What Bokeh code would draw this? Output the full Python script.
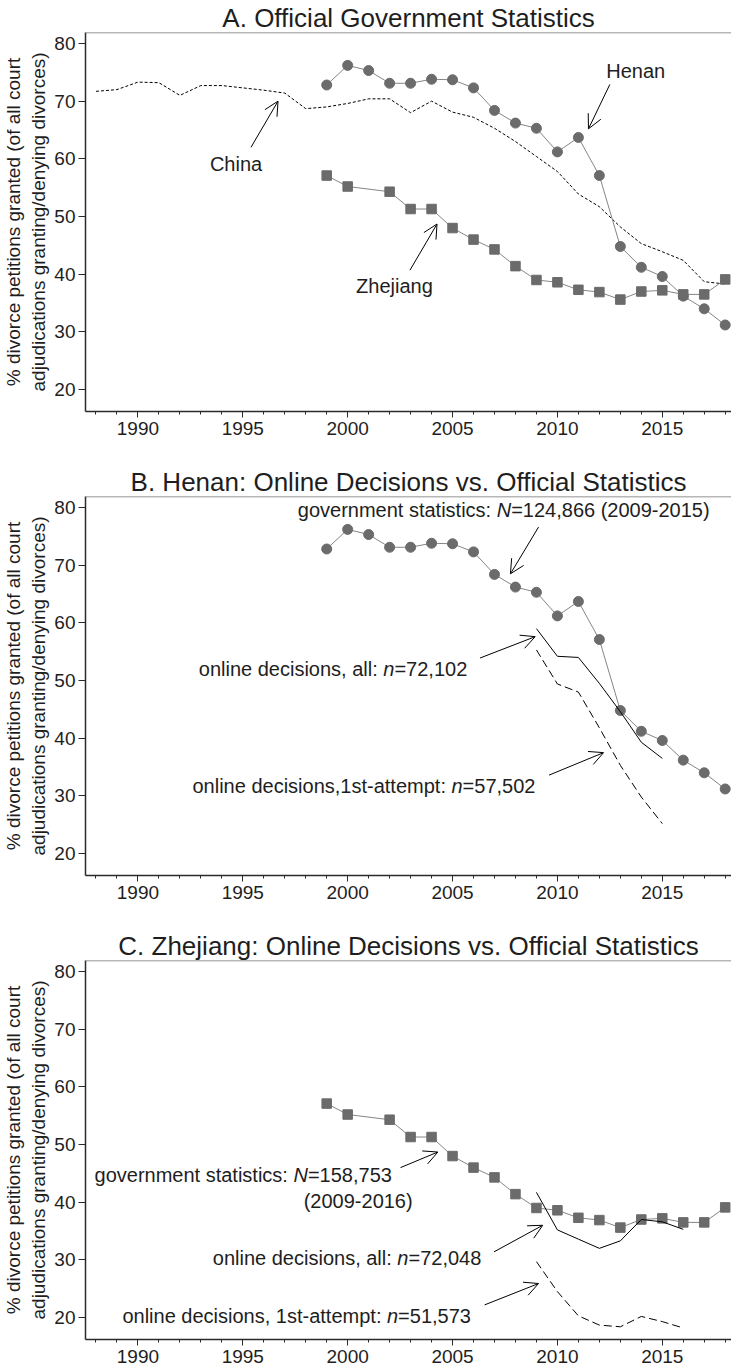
from bokeh.plotting import figure
from bokeh.layouts import column
from bokeh.models import FixedTicker, Arrow, OpenHead, Span, Range1d
from bokeh.core.properties import value
from bokeh.embed import file_html
from bokeh.resources import INLINE

# ---------------- data ----------------
china_years = list(range(1988, 2019))
china_pct = [71.7, 72.0, 73.3, 73.2, 71.0, 72.7, 72.7, 72.3, 71.9, 71.4,
             68.7, 69.0, 69.6, 70.4, 70.4, 68.0, 70.0, 68.1, 67.2, 65.3,
             63.0, 60.4, 57.8, 53.9, 51.7, 48.2, 45.3, 43.9, 42.4, 38.7, 38.3]

henan_years = list(range(1999, 2019))
henan_pct = [72.8, 76.2, 75.3, 73.1, 73.1, 73.8, 73.7, 72.3, 68.4, 66.2,
             65.3, 61.2, 63.7, 57.1, 44.8, 41.2, 39.6, 36.2, 34.0, 31.2]

zhejiang_years = [1999, 2000] + list(range(2002, 2019))
zhejiang_pct = [57.1, 55.2, 54.3, 51.3, 51.3, 48.0, 46.0, 44.3, 41.4, 39.0,
                38.6, 37.3, 36.9, 35.6, 37.0, 37.2, 36.5, 36.5, 39.1]

henan_online_years = list(range(2009, 2016))
henan_online_all = [59.0, 54.2, 54.0, 49.5, 44.6, 39.3, 36.5]
henan_online_first = [55.3, 49.4, 48.0, 41.8, 35.3, 29.8, 25.2]

zhejiang_online_years = list(range(2009, 2017))
zhejiang_online_all = [41.7, 35.2, 33.6, 32.0, 33.3, 37.0, 36.6, 35.3]
zhejiang_online_first = [29.7, 24.5, 20.3, 18.7, 18.4, 20.2, 19.3, 18.2]

major_years = [1990, 1995, 2000, 2005, 2010, 2015]
minor_years = list(range(1988, 2019))
y_ticks = [20, 30, 40, 50, 60, 70, 80]

titles = ["A. Official Government Statistics",
          "B. Henan: Online Decisions vs. Official Statistics",
          "C. Zhejiang: Online Decisions vs. Official Statistics"]
y_label = "% divorce petitions granted (of all court\nadjudications granting/denying divorces)"

# ---------------- style ----------------
FONT = "Liberation Sans"
TXT = "#1e1e1e"
AX = "#2a2a2a"
MARK = "#6b6b6b"
LINE = "#858585"
ANN_SIZE = 20

W = {' ': 278, '%': 889, '(': 333, ')': 333, ',': 278, '-': 333, '.': 278,
     '/': 278, ':': 278, '=': 584, 'N': 722, 'a': 556, 'b': 556, 'c': 500,
     'd': 556, 'e': 556, 'f': 278, 'g': 556, 'h': 556, 'i': 222, 'j': 222,
     'k': 500, 'l': 222, 'm': 833, 'n': 556, 'o': 556, 'p': 556, 'r': 333,
     's': 500, 't': 278, 'u': 556, 'v': 500, 'y': 500}


def tw(s, size=ANN_SIZE):
    return sum(W.get(c, 556) for c in s) / 1000.0 * size


def rich(p, x, y, parts, align="left", size=ANN_SIZE):
    total = sum(tw(t, size) for t, _ in parts)
    off = 0.0 if align == "left" else -total / 2.0
    for t, style in parts:
        p.text(x=[x], y=[y], text=[t], x_offset=off, text_align="left",
               text_baseline="middle", text_font=value(FONT),
               text_font_size=f"{size}px", text_font_style=style,
               text_color=TXT)
        off += tw(t, size)


def arrow(p, x0, y0, x1, y1):
    p.add_layout(Arrow(end=OpenHead(size=14, line_width=1, line_color="black"),
                       x_start=x0, y_start=y0, x_end=x1, y_end=y1,
                       line_width=1, line_color="black"))


X0, X1 = 1987.5, 2018.3
Y0, Y1 = 16.2, 81.9


def make_fig(title, bottom):
    p = figure(frame_width=646, frame_height=379, output_backend="svg",
               toolbar_location=None, x_range=Range1d(X0, X1),
               y_range=Range1d(Y0, Y1), min_border_left=79,
               min_border_right=0, min_border_top=28,
               min_border_bottom=bottom)
    p.title.text = title
    p.title.text_font = FONT
    p.title.text_font_size = "26px"
    p.title.text_font_style = "normal"
    p.title.text_color = TXT
    p.title.align = "center"
    p.title.standoff = 0
    p.outline_line_color = None
    p.background_fill_color = "white"
    p.border_fill_color = "white"
    p.xgrid.grid_line_color = None
    p.ygrid.grid_line_color = None

    p.xaxis.ticker = FixedTicker(ticks=major_years, minor_ticks=minor_years)
    p.yaxis.ticker = FixedTicker(ticks=y_ticks, minor_ticks=[])
    for ax in (p.xaxis, p.yaxis):
        ax.axis_line_color = AX
        ax.axis_line_width = 1.5
        ax.major_tick_line_color = AX
        ax.minor_tick_line_color = AX
        ax.major_tick_in = 0
        ax.minor_tick_in = 0
        ax.major_label_text_font = FONT
        ax.major_label_text_font_size = "19px"
        ax.major_label_text_color = TXT
    p.xaxis.major_tick_out = 6
    p.xaxis.minor_tick_out = 3
    p.xaxis.major_label_standoff = 4
    p.yaxis.major_tick_out = 7
    p.yaxis.minor_tick_out = 0
    p.yaxis.major_label_standoff = 3
    p.yaxis.axis_label = y_label
    p.yaxis.axis_label_text_font = FONT
    p.yaxis.axis_label_text_font_size = "19px"
    p.yaxis.axis_label_text_font_style = "normal"
    p.yaxis.axis_label_text_color = TXT
    p.yaxis.axis_label_standoff = 2
    p.add_layout(Span(location=Y1, dimension="width", line_color="#707070",
                      line_width=1.5))
    return p


def henan_series(p):
    p.line(henan_years, henan_pct, line_color=LINE, line_width=1)
    p.scatter(henan_years, henan_pct, marker="circle", size=10,
              fill_color=MARK, line_color=MARK)


def zhejiang_series(p):
    p.line(zhejiang_years, zhejiang_pct, line_color=LINE, line_width=1)
    p.scatter(zhejiang_years, zhejiang_pct, marker="square", size=9.5,
              fill_color=MARK, line_color=MARK)


# ---------------- panel A ----------------
pA = make_fig(titles[0], 53)
pA.line(china_years, china_pct, line_color="black", line_width=1,
        line_dash="3 2")
henan_series(pA)
zhejiang_series(pA)
rich(pA, 1993.43, 59.1, [("China", "normal")])
arrow(pA, 1995.39, 62.0, 1996.68, 70.0)
rich(pA, 2012.33, 75.2, [("Henan", "normal")])
arrow(pA, 2012.5, 72.9, 2011.48, 65.2)
rich(pA, 2000.4, 37.9, [("Zhejiang", "normal")])
arrow(pA, 2002.97, 40.7, 2004.26, 48.7)

# ---------------- panel B ----------------
pB = make_fig(titles[1], 53)
henan_series(pB)
pB.line(henan_online_years, henan_online_all, line_color="black", line_width=1)
pB.line(henan_online_years, henan_online_first, line_color="black",
        line_width=1, line_dash="8 4")
rich(pB, 1997.62, 79.6, [("government statistics: ", "normal"), ("N", "italic"),
                         ("=124,866 (2009-2015)", "normal")])
arrow(pB, 2009.1, 76.6, 2007.76, 68.5)
rich(pB, 1992.9, 52.0, [("online decisions, all: ", "normal"), ("n", "italic"),
                        ("=72,102", "normal")])
arrow(pB, 2006.31, 53.9, 2008.94, 57.6)
rich(pB, 1992.6, 31.8, [("online decisions,1st-attempt: ", "normal"),
                        ("n", "italic"), ("=57,502", "normal")])
arrow(pB, 2009.6, 33.6, 2012.2, 37.5)

# ---------------- panel C ----------------
pC = make_fig(titles[2], 36)
zhejiang_series(pC)
pC.line(zhejiang_online_years, zhejiang_online_all, line_color="black",
        line_width=1)
pC.line(zhejiang_online_years, zhejiang_online_first, line_color="black",
        line_width=1, line_dash="8 4")
rich(pC, 1987.93, 44.8, [("government statistics: ", "normal"), ("N", "italic"),
                         ("=158,753", "normal")])
rich(pC, 2000.5, 40.2, [("(2009-2016)", "normal")], align="center")
arrow(pC, 2002.52, 46.0, 2004.3, 48.7)
rich(pC, 1993.57, 30.3, [("online decisions, all: ", "normal"), ("n", "italic"),
                         ("=72,048", "normal")])
arrow(pC, 2006.98, 31.4, 2009.3, 36.0)
rich(pC, 1989.26, 20.2, [("online decisions, 1st-attempt: ", "normal"),
                         ("n", "italic"), ("=51,573", "normal")])
arrow(pC, 2006.53, 22.2, 2009.1, 25.9)

layout = column(pA, pB, pC, spacing=0)
open("out.html", "w").write(file_html(layout, INLINE))
